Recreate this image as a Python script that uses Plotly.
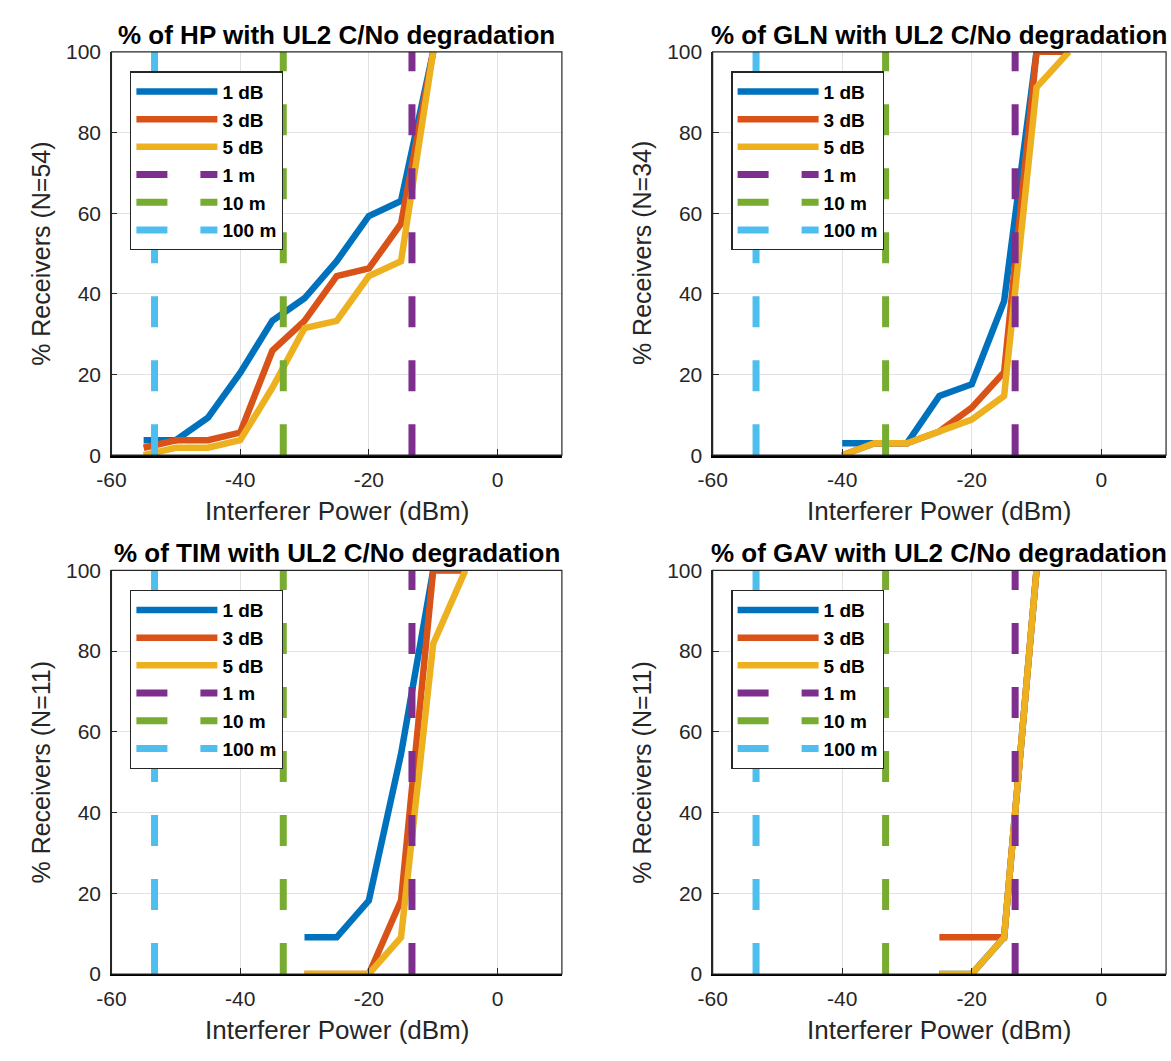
import plotly.graph_objects as go

# ---------------- data ----------------
SERIES_NAMES = ["1 dB", "3 dB", "5 dB"]
SERIES_COLORS = ["#0072BD", "#D95319", "#EDB120"]

DIST_NAMES = ["1 m", "10 m", "100 m"]
DIST_POWER = [-13.3, -33.3, -53.3]
DIST_COLORS = ["#7E2F8E", "#77AC30", "#4DBEEE"]

X_HP = [-55, -50, -45, -40, -35, -30, -25, -20, -15, -10]
HP_1DB = [3.7, 3.7, 9.3, 20.4, 33.3, 38.9, 48.1, 59.3, 63.0, 100]
HP_3DB = [1.85, 3.7, 3.7, 5.6, 25.9, 33.3, 44.4, 46.3, 57.4, 100]
HP_5DB = [0, 1.85, 1.85, 3.7, 16.7, 31.5, 33.3, 44.4, 48.1, 100]

X_GLN = [-40, -35, -30, -25, -20, -15, -10, -5]
GLN_1DB = [2.94, 2.94, 2.94, 14.7, 17.6, 38.2, 100, 100]
GLN_3DB = [0, 2.94, 2.94, 5.88, 11.8, 20.6, 100, 100]
GLN_5DB = [0, 2.94, 2.94, 5.88, 8.82, 14.7, 91.2, 100]

X_TIM = [-30, -25, -20, -15, -10, -5]
TIM_1DB = [9.09, 9.09, 18.2, 54.5, 100, 100]
TIM_3DB = [0, 0, 0, 18.2, 100, 100]
TIM_5DB = [0, 0, 0, 9.09, 81.8, 100]

X_GAV = [-25, -20, -15, -10]
GAV_1DB = [0, 0, 9.09, 100]
GAV_3DB = [9.09, 9.09, 9.09, 100]
GAV_5DB = [0, 0, 9.09, 100]

RECEIVERS = ["HP", "GLN", "TIM", "GAV"]
N_RECEIVERS = [54, 34, 11, 11]
X_VALUES = [X_HP, X_GLN, X_TIM, X_GAV]
Y_VALUES = [[HP_1DB, HP_3DB, HP_5DB], [GLN_1DB, GLN_3DB, GLN_5DB],
            [TIM_1DB, TIM_3DB, TIM_5DB], [GAV_1DB, GAV_3DB, GAV_5DB]]

X_TICKS = [-60, -40, -20, 0]
X_TICK_LABELS = ["-60", "-40", "-20", "0"]
Y_TICKS = [0, 20, 40, 60, 80, 100]
Y_TICK_LABELS = ["0", "20", "40", "60", "80", "100"]
X_RANGE = [-60, 10]
Y_RANGE = [0, 100]

# ---------------- layout geometry ----------------
W, H = 1171, 1061
COL_PX = [(97.7, 554.0), (706.7, 1166.0)]
ROW_PX = [(40.7, 453.0), (570.7, 983.3)]

FONT = "Liberation Sans, Arial, Helvetica, sans-serif"
TXT = "#262626"

fig = go.Figure()
annotations = []
shapes = []

for i, rec in enumerate(RECEIVERS):
    r, c = divmod(i, 2)
    ax = "" if i == 0 else str(i + 1)
    xref, yref = "x" + ax, "y" + ax
    leg = "legend" + ax
    x0p, x1p = COL_PX[c]
    y0p, y1p = ROW_PX[r]
    xd = [x0p / W, x1p / W]
    yd = [1 - y1p / H, 1 - y0p / H]

    for name, col, ys in zip(SERIES_NAMES, SERIES_COLORS, Y_VALUES[i]):
        fig.add_trace(go.Scatter(
            x=X_VALUES[i], y=ys, mode="lines", name=name,
            line=dict(color=col, width=6.5),
            xaxis=xref, yaxis=yref, legend=leg, showlegend=True,
        ))
    for name, col, xv in zip(DIST_NAMES, DIST_COLORS, DIST_POWER):
        fig.add_trace(go.Scatter(
            x=[xv, xv], y=[Y_RANGE[0], Y_RANGE[1]], mode="lines", name=name,
            line=dict(color=col, width=7, dash="31px,33px"),
            xaxis=xref, yaxis=yref, legend=leg, showlegend=True,
        ))

    axis_common = dict(
        showgrid=True, gridcolor="#e2e2e2", gridwidth=1,
        zeroline=False, ticks="inside", ticklen=6, tickwidth=1,
        tickcolor=TXT, tickfont=dict(family=FONT, size=21, color=TXT),
        showline=True, linecolor=TXT, fixedrange=True,
    )
    fig.layout["xaxis" + ax] = dict(
        axis_common, domain=xd, range=X_RANGE,
        tickmode="array", tickvals=X_TICKS, ticktext=X_TICK_LABELS,
        anchor=yref, linewidth=2.5, linecolor="#000000",
        ticklabelstandoff=4,
    )
    fig.layout["yaxis" + ax] = dict(
        axis_common, domain=yd, range=Y_RANGE,
        tickmode="array", tickvals=Y_TICKS, ticktext=Y_TICK_LABELS,
        anchor=xref, linewidth=1.2, ticklabelstandoff=5,
    )
    # box around plot area
    shapes.append(dict(type="rect", xref=xref + " domain", yref=yref + " domain",
                       x0=0, x1=1, y0=0, y1=1, line=dict(color=TXT, width=1.2),
                       layer="above"))

    fig.layout[leg] = dict(
        x=(x0p + 19) / W, y=1 - (y0p + 20) / H, xanchor="left", yanchor="top",
        bgcolor="white", bordercolor=TXT, borderwidth=1.2,
        font=dict(family=FONT, size=19, color="#000000", weight="bold"),
        itemwidth=81, tracegroupgap=0,
    )

    cx = (x0p + x1p) / 2 / W
    annotations.append(dict(
        text=f"% of {rec} with UL2 C/No degradation", xref="paper", yref="paper",
        x=cx, y=1 - y0p / H, xanchor="center", yanchor="bottom", yshift=0,
        showarrow=False, font=dict(family=FONT, size=26, color="#000000", weight="bold"),
    ))
    annotations.append(dict(
        text="Interferer Power (dBm)", xref="paper", yref="paper",
        x=cx, y=1 - (y1p + 57) / H, xanchor="center", yanchor="middle",
        showarrow=False, font=dict(family=FONT, size=26, color=TXT),
    ))
    annotations.append(dict(
        text=f"% Receivers (N={N_RECEIVERS[i]})", xref="paper", yref="paper",
        x=(x0p - 71) / W, y=1 - (y0p + y1p) / 2 / H, xanchor="center", yanchor="middle",
        textangle=-90, showarrow=False, font=dict(family=FONT, size=25, color=TXT),
    ))

fig.update_layout(
    width=W, height=H, margin=dict(l=0, r=0, t=0, b=0),
    paper_bgcolor="white", plot_bgcolor="white",
    annotations=annotations, shapes=shapes,
    font=dict(family=FONT, color=TXT),
)

fig.write_html(
    "out.html",
    config={"displayModeBar": False, "staticPlot": True},
    post_script="document.body.style.margin='0';document.body.style.overflow='hidden';",
)
